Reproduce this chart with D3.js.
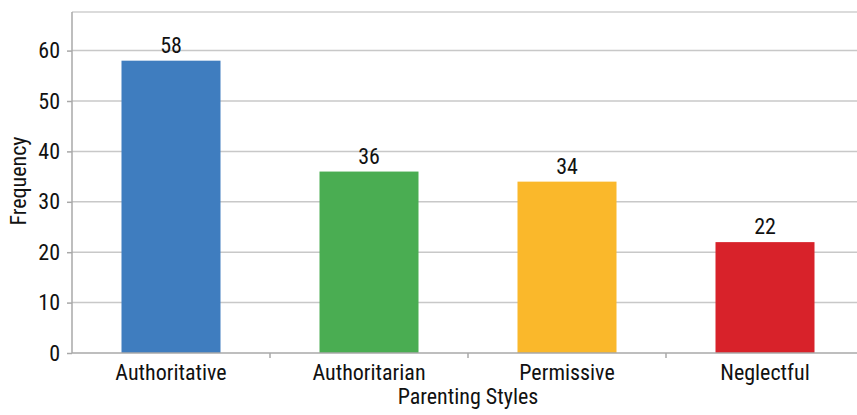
<!DOCTYPE html>
<html><head><meta charset="utf-8">
<script src="https://cdn.jsdelivr.net/npm/d3@7"></script>
<style>
body{margin:0;background:#fff;}
text{font-family:"Liberation Sans Narrow","Roboto Condensed","Liberation Sans",Arial,sans-serif;fill:#111;}
</style></head><body>
<svg id="c" width="857" height="415"></svg>
<script>
const categories = ["Authoritative","Authoritarian","Permissive","Neglectful"];
const values = [58,36,34,22];
const colors = ["#3f7dbf","#4aad52","#fab82b","#d8222a"];
const yTicks = [0,10,20,30,40,50,60];

const FS = 22;
const FF = "'Liberation Sans Narrow','Roboto Condensed','Liberation Sans',Arial,sans-serif";
const svg = d3.select("#c");
const L = 72, R = 864, T = 12, B = 353;
const x = d3.scaleBand().domain(categories).range([L,R]).paddingInner(0.5).paddingOuter(0.25);
const y = d3.scaleLinear().domain([0,60]).range([B, B-60*5.04]);

// top border
svg.append("line").attr("x1",L).attr("x2",R).attr("y1",T).attr("y2",T).attr("stroke","#cfcfcf").attr("stroke-width",1.5);
// grid
svg.append("g").selectAll("line").data(yTicks.slice(1)).join("line")
  .attr("x1",L).attr("x2",R).attr("y1",d=>y(d)).attr("y2",d=>y(d))
  .attr("stroke","#c8c8c8").attr("stroke-width",1.5);

// bars
svg.append("g").selectAll("rect").data(values).join("rect")
  .attr("x",(d,i)=>x(categories[i])).attr("width",x.bandwidth())
  .attr("y",d=>y(d)).attr("height",d=>B-y(d)).attr("fill",(d,i)=>colors[i]);

// value labels
svg.append("g").selectAll("text").data(values).join("text")
  .attr("x",(d,i)=>x(categories[i])+x.bandwidth()/2).attr("y",d=>y(d)-8)
  .attr("text-anchor","middle").attr("font-size",FS).text(d=>d);

// y axis
const ya = svg.append("g").attr("transform",`translate(${L},0)`)
  .call(d3.axisLeft(y).tickValues(yTicks).tickSize(5).tickPadding(7));
ya.select(".domain").remove();
ya.append("line").attr("x1",0).attr("x2",0).attr("y1",T).attr("y2",B).attr("stroke","#a8a8a8").attr("stroke-width",1.5);
ya.selectAll(".tick line").attr("stroke","#a8a8a8").attr("stroke-width",1.5);
ya.selectAll(".tick text").attr("font-size",FS).attr("fill","#111").attr("font-family",FF);

// x axis
const xa = svg.append("g").attr("transform",`translate(0,${B})`)
  .call(d3.axisBottom(x).tickSize(0).tickPadding(11));
xa.select(".domain").remove();
xa.append("line").attr("x1",L).attr("x2",R).attr("stroke","#a8a8a8").attr("stroke-width",1.5);
const step = x.step();
xa.selectAll("line.sep").data(categories.slice(1)).join("line").attr("class","sep")
  .attr("x1",d=>x(d)-x.paddingInner()*step/2).attr("x2",d=>x(d)-x.paddingInner()*step/2)
  .attr("y1",0).attr("y2",5).attr("stroke","#a8a8a8").attr("stroke-width",1.5);
xa.selectAll(".tick text").attr("font-size",FS).attr("fill","#111").attr("font-family",FF);

// axis titles
svg.append("text").attr("transform",`translate(26,181) rotate(-90)`)
  .attr("text-anchor","middle").attr("font-size",FS).text("Frequency");
svg.append("text").attr("x",468).attr("y",404).attr("text-anchor","middle")
  .attr("font-size",FS).text("Parenting Styles");
</script></body></html>
